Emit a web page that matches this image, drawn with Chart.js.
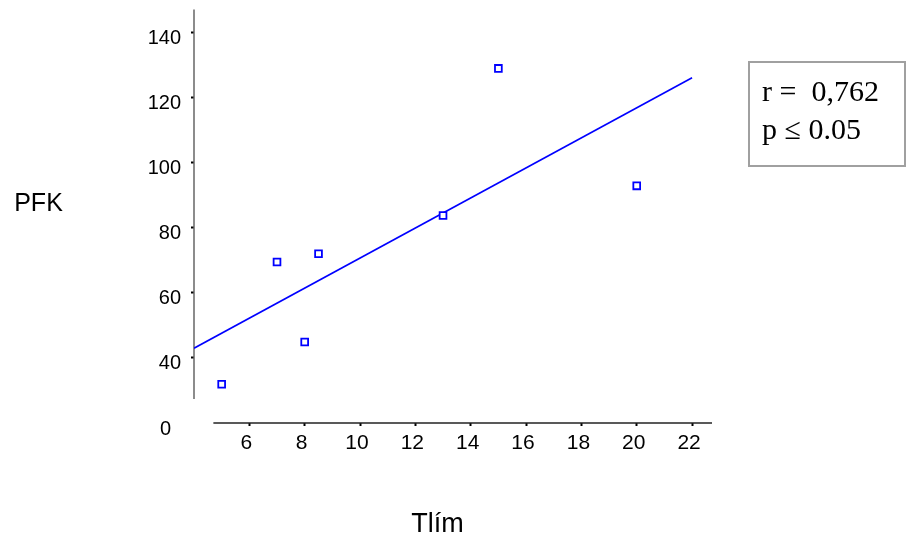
<!DOCTYPE html>
<html>
<head>
<meta charset="utf-8">
<script src="https://cdn.jsdelivr.net/npm/chart.js@4"></script>
<style>
  body { margin: 0; background: #fff; }
  #wrap { position: relative; width: 908px; height: 537px; }
  .ttl { position: absolute; font-family: "Liberation Sans", Arial, sans-serif; color: #000; line-height: 1; white-space: nowrap; transform: translateX(-50%); }
  #stats {
    position: absolute; left: 748px; top: 61px; width: 158px; height: 106px;
    box-sizing: border-box; border: 2px solid #a0a0a0; padding: 9px 0 0 12px;
    font-family: "Liberation Serif", "Times New Roman", serif; font-size: 30px; line-height: 38px; color: #000;
    white-space: nowrap;
  }
</style>
</head>
<body>
<div id="wrap">
  <canvas id="myChart" width="908" height="537"></canvas>
  <div class="ttl" style="left:38.5px; top:190px; font-size:25px;">PFK</div>
  <div class="ttl" style="left:437.5px; top:510px; font-size:27px;">Tlím</div>
  <div id="stats">r =&nbsp; 0,762<br>p ≤ 0.05</div>
</div>
<script>
// values
const tlim = [5.0, 7.0, 8.0, 8.5, 13.0, 15.0, 20.0];
const pfk = [31.9, 69.5, 44.9, 72.0, 83.8, 129.0, 92.9];
// regression line end points
const fitX = [4, 22];
const fitY = [43.0, 126.1];
// ticks (bottom of the broken y axis is labelled 0)
const xTicks = [6, 8, 10, 12, 14, 16, 18, 20, 22];
const yTicks = [20, 40, 60, 80, 100, 120, 140];
const yTickLabels = ['0\u2002', '40', '60', '80', '100', '120', '140'];

const axisLines = {
  id: 'axisLines',
  beforeDatasetsDraw(chart) {
    const { ctx, scales: { x, y } } = chart;
    ctx.save();
    ctx.lineWidth = 1.5;
    // y axis stops short of the x axis
    const ax = x.getPixelForValue(4);
    ctx.strokeStyle = '#666';
    ctx.beginPath();
    ctx.moveTo(ax, y.getPixelForValue(147.1));
    ctx.lineTo(ax, y.getPixelForValue(27.4));
    ctx.stroke();
    const ay = y.getPixelForValue(20);
    ctx.strokeStyle = '#222';
    ctx.beginPath();
    ctx.moveTo(x.getPixelForValue(4.7), ay);
    ctx.lineTo(x.getPixelForValue(22.72), ay);
    ctx.stroke();
    ctx.restore();
  }
};

const ctx = document.getElementById('myChart').getContext('2d');
new Chart(ctx, {
  type: 'scatter',
  data: {
    datasets: [
      {
        label: 'PFK',
        data: tlim.map((v, i) => ({ x: v, y: pfk[i] })),
        pointStyle: 'rect',
        pointRadius: 4.8,
        pointBorderWidth: 1.8,
        borderColor: '#0000ff',
        backgroundColor: '#ffffff',
        showLine: false
      },
      {
        type: 'line',
        label: 'fit',
        data: fitX.map((v, i) => ({ x: v, y: fitY[i] })),
        borderColor: '#0000ff',
        borderWidth: 1.6,
        pointRadius: 0,
        fill: false
      }
    ]
  },
  options: {
    responsive: false,
    animation: false,
    devicePixelRatio: 1,
    layout: { padding: { top: 9.5, right: 196, left: 0, bottom: 0 } },
    plugins: { legend: { display: false }, tooltip: { enabled: false } },
    scales: {
      x: {
        type: 'linear',
        min: 4,
        max: 22.72,
        afterBuildTicks: s => { s.ticks = xTicks.map(v => ({ value: v })); },
        afterFit: s => { s.height = 114; s.paddingLeft = 0; s.paddingRight = 0; },
        border: { display: false },
        grid: { drawOnChartArea: false, drawTicks: true, tickLength: 3, tickWidth: 2, tickColor: '#000' },
        ticks: {
          autoSkip: false, maxRotation: 0, padding: 5, labelOffset: -3, color: '#000',
          font: { family: 'Liberation Sans', size: 21 }
        }
      },
      y: {
        type: 'linear',
        min: 20,
        max: 147.1,
        afterBuildTicks: s => { s.ticks = yTicks.map(v => ({ value: v })); },
        afterFit: s => { s.width = 194; s.paddingTop = 0; s.paddingBottom = 0; },
        border: { display: false },
        grid: {
          drawOnChartArea: false, drawTicks: true, tickLength: 3, tickWidth: 2,
          tickColor: c => (c.tick && c.tick.value === 20 ? 'rgba(0,0,0,0)' : '#000')
        },
        ticks: {
          padding: 10, labelOffset: 6, color: '#000',
          font: { family: 'Liberation Sans', size: 20 },
          callback: v => yTickLabels[yTicks.indexOf(v)]
        }
      }
    }
  },
  plugins: [axisLines]
});
</script>
</body>
</html>
